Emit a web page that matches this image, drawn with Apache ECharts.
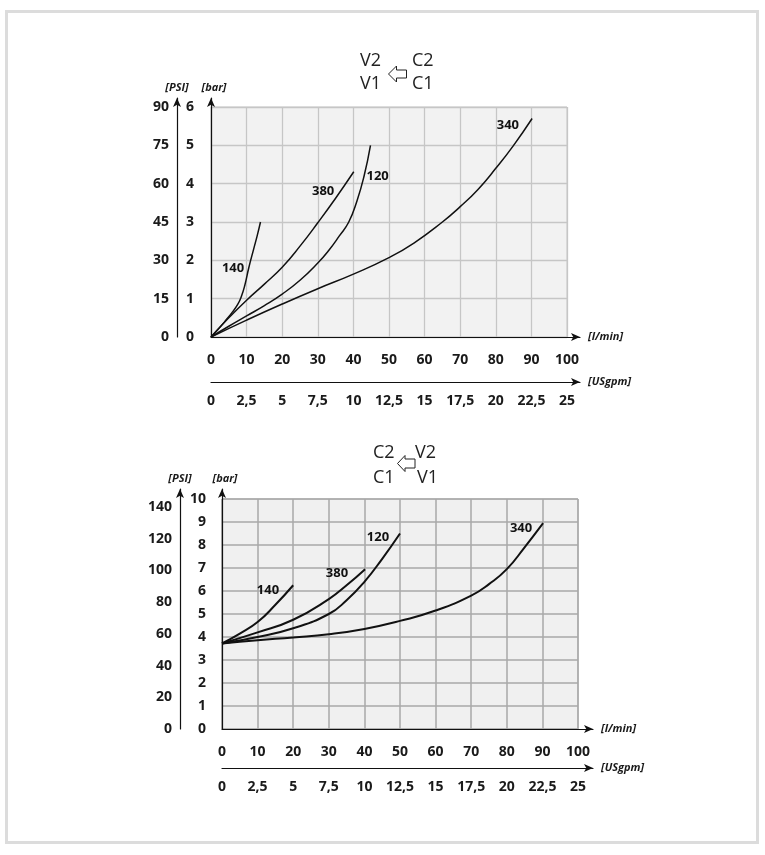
<!DOCTYPE html>
<html><head><meta charset="utf-8">
<script src="https://cdn.jsdelivr.net/npm/echarts@6/dist/echarts.min.js"></script>
<style>html,body{margin:0;padding:0;background:#fff}#c{width:765px;height:855px}</style>
</head><body><div id="c"></div><script>
// ---------- DATA ----------
// Top chart (V2 C2 / V1 C1): flow [l/min] vs pressure [bar]
const top140 = [[0,0],[2,0.2],[4,0.42],[6,0.65],[7.5,0.85],[8.5,1.05],[9.5,1.35],[10.6,1.8],[12,2.3],[13,2.65],[13.9,3.0]];
const top380 = [[0,0],[5,0.5],[10,0.96],[15,1.38],[20,1.82],[25,2.37],[30,2.98],[35,3.62],[40.1,4.31]];
const top120 = [[0,0],[5,0.28],[10,0.55],[15,0.82],[20,1.12],[25,1.48],[30,1.93],[33,2.25],[36,2.63],[38.7,3.0],[41,3.55],[43,4.2],[44.8,5.0]];
const top340 = [[0,0],[10,0.44],[20,0.86],[30,1.26],[40,1.64],[50,2.07],[57,2.45],[65,3.0],[70,3.4],[75,3.85],[80,4.4],[85,5.0],[90.2,5.7]];
// Bottom chart (C2 V2 / C1 V1)
const bot140 = [[0,3.72],[5,4.15],[10,4.65],[15,5.4],[20,6.25]];
const bot380 = [[0,3.72],[10,4.2],[20,4.75],[30,5.65],[35,6.25],[40.2,6.95]];
const bot120 = [[0,3.72],[10,4.0],[20,4.38],[30,5.0],[35,5.6],[40,6.4],[45,7.4],[50,8.5]];
const bot340 = [[0,3.72],[10,3.86],[20,3.98],[30,4.12],[40,4.35],[50,4.7],[60,5.15],[70,5.8],[75,6.3],[80,6.95],[85,7.9],[90.2,8.95]];
const seriesNames = ['140','380','120','340'];
// Tick label sets
const flowTicks = [0,10,20,30,40,50,60,70,80,90,100];
const usgpmTicks = ['0','2,5','5','7,5','10','12,5','15','17,5','20','22,5','25'];
const topBarTicks = [0,1,2,3,4,5,6];
const topPsiTicks = [0,15,30,45,60,75,90];
const botBarTicks = [0,1,2,3,4,5,6,7,8,9,10];
const botPsiTicks = [0,20,40,60,80,100,120,140];

// ---------- STYLE ----------
const FONT = '"Open Sans", "DejaVu Sans", sans-serif';
const tickStyle = {fontFamily: FONT, fontWeight: 'bold', fontSize: 14, color: '#1a1a1a'};
const unitStyle = {fontFamily: FONT, fontWeight: 'bold', fontStyle: 'italic', fontSize: 11, color: '#1a1a1a'};
const arrowLine = {show: true, symbol: ['none', 'arrow'], symbolSize: [6, 9], lineStyle: {color: '#111', width: 1.2}};
const hiddenAxisParts = {axisTick: {show: false}, axisLabel: {show: false}, splitLine: {show: false}};

function listFormatter(list, step) {
  return function (v) {
    const i = Math.round(v / step);
    return (Math.abs(i * step - v) < 1e-6 && i < list.length) ? String(list[i]) : '';
  };
}

function buildChart(cfg) {
  const g0 = cfg.base;
  const grids = [
    {left: cfg.left, top: cfg.top, width: cfg.w, height: cfg.h, show: true,
     backgroundColor: cfg.bg, borderColor: cfg.gridColor, borderWidth: 1},
    {left: cfg.left, top: cfg.arrowTop, width: cfg.arrowW, height: cfg.top + cfg.h - cfg.arrowTop},
    {left: cfg.left - cfg.psiOffset, top: cfg.arrowTop, width: 1, height: cfg.top + cfg.h - cfg.arrowTop},
    {left: cfg.left, top: cfg.usTop, width: cfg.arrowW, height: 1}
  ];
  const xAxes = [
    {gridIndex: g0, type: 'value', min: 0, max: 100, interval: 10,
     axisLine: {show: false}, axisTick: {show: false},
     axisLabel: Object.assign({margin: 16, formatter: listFormatter(flowTicks, 10)}, tickStyle),
     splitLine: {show: true, lineStyle: {color: cfg.gridColor, width: cfg.gridWidth}}},
    Object.assign({gridIndex: g0 + 1, type: 'value', min: 0, max: 1, z: 5,
     axisLine: arrowLine, name: '[l/min]', nameLocation: 'end', nameGap: 8, nameTextStyle: unitStyle}, hiddenAxisParts),
    Object.assign({gridIndex: g0 + 2, type: 'value', min: 0, max: 1, show: false}),
    {gridIndex: g0 + 3, type: 'value', min: 0, max: 25 * cfg.arrowW / cfg.w, interval: 2.5, z: 5,
     axisLine: arrowLine, axisTick: {show: false}, splitLine: {show: false},
     name: '[USgpm]', nameLocation: 'end', nameGap: 8, nameTextStyle: unitStyle,
     axisLabel: Object.assign({margin: 12, showMaxLabel: true, formatter: listFormatter(usgpmTicks, 2.5)}, tickStyle)}
  ];
  const yAxes = [
    {gridIndex: g0, type: 'value', min: 0, max: cfg.barMax, interval: 1,
     axisLine: {show: false}, axisTick: {show: false},
     axisLabel: Object.assign({margin: cfg.barMargin, formatter: listFormatter(cfg.barTicks, 1)}, tickStyle),
     splitLine: {show: true, lineStyle: {color: cfg.gridColor, width: cfg.gridWidth}}},
    {gridIndex: g0, type: 'value', position: 'left', offset: cfg.psiOffset, min: 0, max: cfg.psiMax, interval: cfg.psiStep,
     axisLine: {show: false}, axisTick: {show: false}, splitLine: {show: false},
     axisLabel: Object.assign({margin: 8, formatter: listFormatter(cfg.psiTicks, cfg.psiStep)}, tickStyle)},
    Object.assign({gridIndex: g0 + 1, type: 'value', min: 0, max: 1, z: 5,
     axisLine: arrowLine, name: '[bar]', nameLocation: 'end', nameGap: 5,
     nameTextStyle: Object.assign({align: 'center', padding: [0, 0, 0, 6]}, unitStyle)}, hiddenAxisParts),
    Object.assign({gridIndex: g0 + 2, type: 'value', min: 0, max: 1, z: 5,
     axisLine: arrowLine, name: '[PSI]', nameLocation: 'end', nameGap: 5,
     nameTextStyle: Object.assign({align: 'center'}, unitStyle)}, hiddenAxisParts),
    {gridIndex: g0 + 3, type: 'value', show: false}
  ];
  const series = cfg.curves.map(function (d, i) {
    return {
      type: 'line', xAxisIndex: cfg.xBase, yAxisIndex: cfg.yBase, data: d, smooth: 0.5,
      showSymbol: false, silent: true, z: 6,
      lineStyle: {color: '#111', width: cfg.lineWidth},
      markPoint: {
        symbol: 'circle', symbolSize: 1, silent: true,
        itemStyle: {color: 'rgba(0,0,0,0)'},
        label: {show: true, position: 'inside', formatter: '{b}', fontFamily: FONT, fontWeight: 'bold', fontSize: 13, color: '#111'},
        data: [{name: seriesNames[i], coord: cfg.labelAt[i]}]
      }
    };
  });
  return {grids: grids, xAxes: xAxes, yAxes: yAxes, series: series};
}

const topChart = buildChart({
  base: 0, xBase: 0, yBase: 0,
  left: 211, top: 107, w: 356, h: 230, arrowTop: 98, arrowW: 369, usTop: 381,
  psiOffset: 34, barMax: 6, psiMax: 90, psiStep: 15, barMargin: 17,
  barTicks: topBarTicks, psiTicks: topPsiTicks,
  bg: '#f2f2f2', gridColor: '#c6c6c6', gridWidth: 1.3, lineWidth: 1.5,
  curves: [top140, top380, top120, top340],
  labelAt: [[6.2, 1.8], [31.5, 3.8], [46.8, 4.2], [83.4, 5.52]]
});
const botChart = buildChart({
  base: 4, xBase: 4, yBase: 5,
  left: 222, top: 499, w: 356, h: 230, arrowTop: 489, arrowW: 371, usTop: 767,
  psiOffset: 42, barMax: 10, psiMax: 145, psiStep: 20, barMargin: 16,
  barTicks: botBarTicks, psiTicks: botPsiTicks,
  bg: '#f0f0f0', gridColor: '#a8a8a8', gridWidth: 1.5, lineWidth: 2,
  curves: [bot140, bot380, bot120, bot340],
  labelAt: [[12.9, 6.04], [32.3, 6.78], [43.8, 8.35], [84, 8.74]]
});

const titleStyle = {fontFamily: FONT, fontSize: 18, fill: '#222', verticalAlign: 'middle'};
function t(txt, x, y) { return {type: 'text', x: x, y: y, style: Object.assign({text: txt}, titleStyle), z: 10}; }
function hollowArrow(tipX, tipY, headLen, headHalf, tailLen, tailHalf) {
  const bx = tipX + headLen;
  return {type: 'polygon', z: 10, shape: {points: [
    [tipX, tipY], [bx, tipY - headHalf], [bx, tipY - tailHalf], [bx + tailLen, tipY - tailHalf],
    [bx + tailLen, tipY + tailHalf], [bx, tipY + tailHalf], [bx, tipY + headHalf]]},
    style: {fill: '#fff', stroke: '#222', lineWidth: 1}};
}

const option = {
  animation: false,
  backgroundColor: '#fff',
  grid: topChart.grids.concat(botChart.grids),
  xAxis: topChart.xAxes.concat(botChart.xAxes),
  yAxis: topChart.yAxes.concat(botChart.yAxes),
  series: topChart.series.concat(botChart.series),
  graphic: [
    {type: 'rect', shape: {x: 6.5, y: 11.5, width: 751, height: 831}, style: {fill: 'none', stroke: '#dcdcdc', lineWidth: 3}},
    t('V2', 360, 61), t('C2', 412, 61), t('V1', 360, 84), t('C1', 412, 84),
    hollowArrow(388.5, 74, 8, 8, 10, 4),
    t('C2', 373, 453), t('V2', 415, 453), t('C1', 373, 478), t('V1', 417, 478),
    hollowArrow(397.5, 463.5, 7.5, 8, 10, 4.5)
  ]
};
const chart = echarts.init(document.getElementById('c'), null, {renderer: 'canvas'});
chart.setOption(option);
</script></body></html>
